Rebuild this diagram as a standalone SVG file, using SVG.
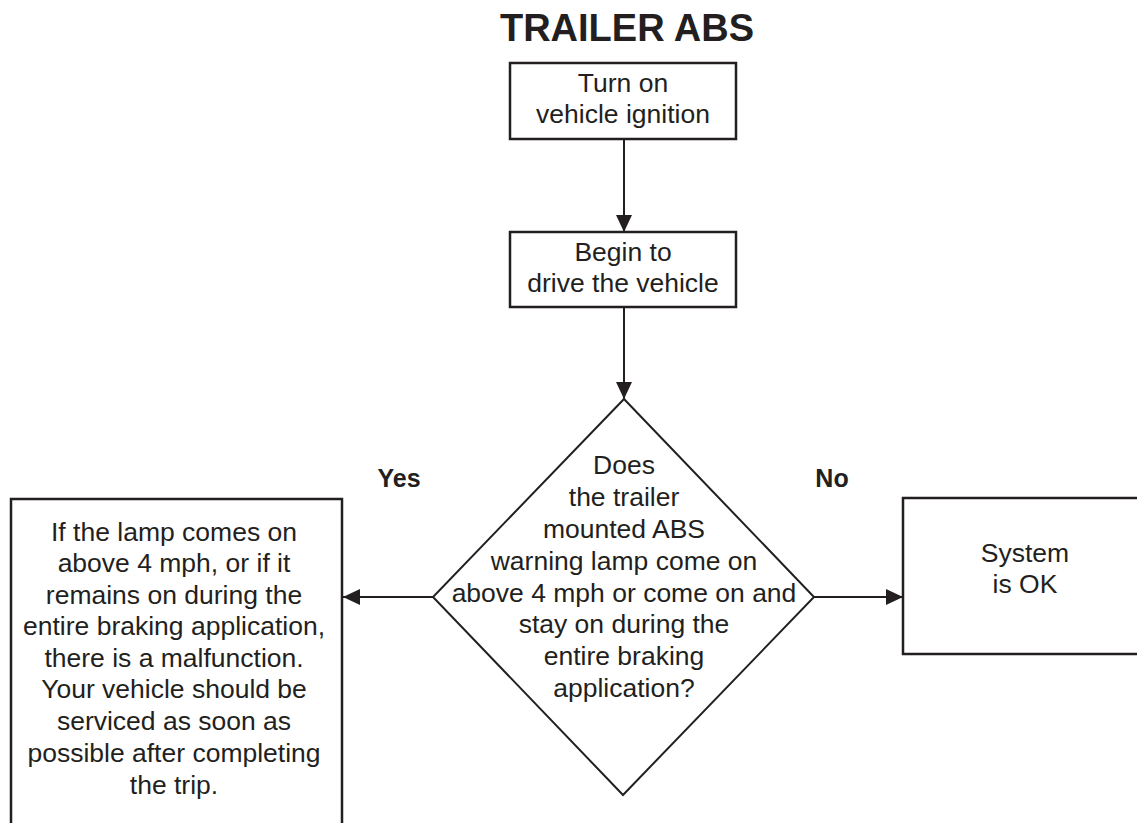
<svg xmlns="http://www.w3.org/2000/svg" width="1137" height="823" viewBox="0 0 1137 823">
<style>
.box{fill:#fff;stroke:#231f20;stroke-width:2.5}
.dia{fill:#fff;stroke:#231f20;stroke-width:2}
.t{font-family:"Liberation Sans",Arial,sans-serif;font-size:26.5px;fill:#231f20;text-anchor:middle}
.b{font-family:"Liberation Sans",Arial,sans-serif;font-weight:bold;fill:#231f20;text-anchor:middle}
.c{fill:none;stroke:#231f20;stroke-width:2}
</style>
<defs>
<marker id="arr" markerUnits="userSpaceOnUse" markerWidth="18" markerHeight="18" viewBox="0 0 18 18" refX="17" refY="9" orient="auto">
<path d="M0,1 L17,9 L0,17 Z" fill="#231f20"/>
</marker>
</defs>
<rect width="1137" height="823" fill="#fff"/>
<text class="b" x="627" y="41" font-size="38">TRAILER ABS</text>
<g id="connectors">
<line class="c" x1="624" y1="139" x2="624" y2="232" marker-end="url(#arr)"/>
<line class="c" x1="624" y1="307" x2="624" y2="399" marker-end="url(#arr)"/>
<line class="c" x1="433" y1="597" x2="343" y2="597" marker-end="url(#arr)"/>
<line class="c" x1="814" y1="597" x2="903" y2="597" marker-end="url(#arr)"/>
<text class="b" x="399" y="487" font-size="25">Yes</text>
<text class="b" x="832" y="487" font-size="25">No</text>
</g>
<g id="n1">
<rect class="box" x="510" y="63" width="226" height="76"/>
<text class="t" x="623" y="92">Turn on</text>
<text class="t" x="623" y="123">vehicle ignition</text>
</g>
<g id="n2">
<rect class="box" x="510" y="232" width="226" height="75"/>
<text class="t" x="623" y="261">Begin to</text>
<text class="t" x="623" y="292">drive the vehicle</text>
</g>
<g id="n3">
<polygon class="dia" points="624,399 814,597 623,795 433,597"/>
<text class="t" x="624" y="474">Does</text>
<text class="t" x="624" y="506">the trailer</text>
<text class="t" x="624" y="538">mounted ABS</text>
<text class="t" x="624" y="570">warning lamp come on</text>
<text class="t" x="624" y="602">above 4 mph or come on and</text>
<text class="t" x="624" y="633">stay on during the</text>
<text class="t" x="624" y="665">entire braking</text>
<text class="t" x="624" y="697">application?</text>
</g>
<g id="n4">
<rect class="box" x="11" y="499" width="331" height="340"/>
<text class="t" x="174" y="541">If the lamp comes on</text>
<text class="t" x="174" y="572">above 4 mph, or if it</text>
<text class="t" x="174" y="604">remains on during the</text>
<text class="t" x="174" y="635">entire braking application,</text>
<text class="t" x="174" y="667">there is a malfunction.</text>
<text class="t" x="174" y="698">Your vehicle should be</text>
<text class="t" x="174" y="730">serviced as soon as</text>
<text class="t" x="174" y="762">possible after completing</text>
<text class="t" x="174" y="794">the trip.</text>
</g>
<g id="n5">
<rect class="box" x="903" y="498" width="250" height="156"/>
<text class="t" x="1025" y="562">System</text>
<text class="t" x="1025" y="593">is OK</text>
</g>
</svg>
